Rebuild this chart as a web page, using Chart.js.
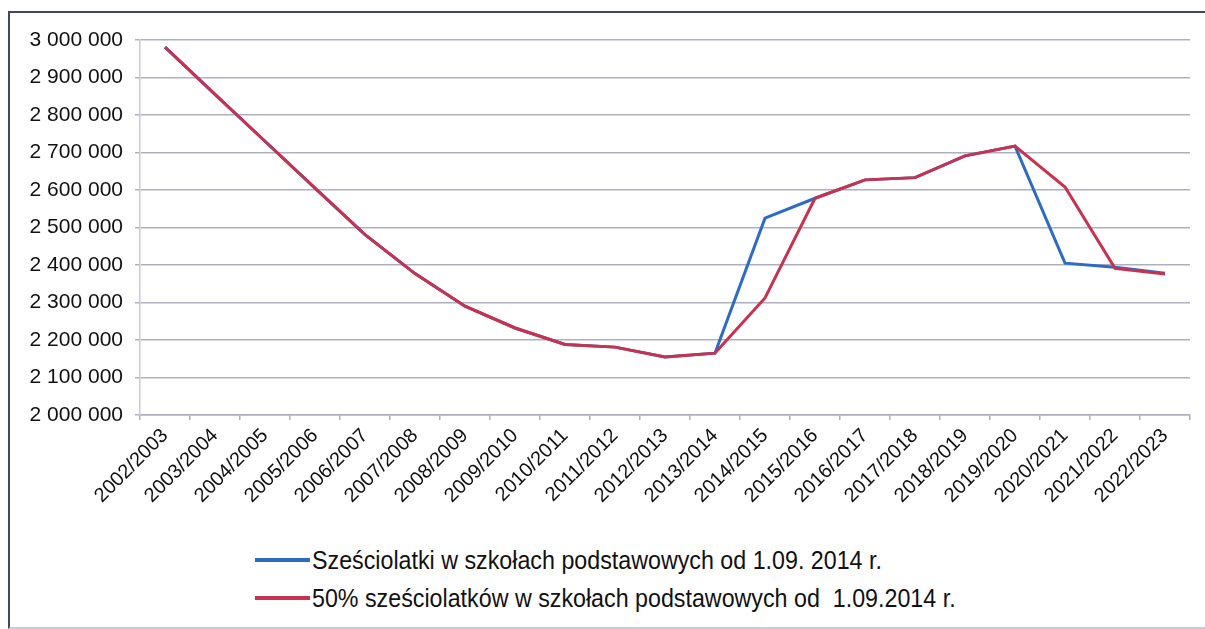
<!DOCTYPE html>
<html lang="pl">
<head>
<meta charset="utf-8">
<script src="https://cdn.jsdelivr.net/npm/chart.js@4.4.0/dist/chart.umd.min.js"></script>
<style>
  html, body { margin: 0; padding: 0; background: #fff; }
  body { width: 1205px; height: 629px; position: relative; overflow: hidden; }
  #frame {
    position: absolute; left: 8px; top: 11px; width: 1300px; height: 614px;
    border-left: 2px solid #434858; border-top: 2px solid #434858;
    border-bottom: 2px solid #c9cad2;
  }
  #wrap { position: absolute; left: 0; top: 0; width: 1205px; height: 515px; }
  #legend {
    position: absolute; left: 255px; top: 541px;
    font-family: 'Liberation Sans Narrow', 'Arial Narrow', 'Liberation Sans', sans-serif;
    font-size: 25px; color: #111;
  }
  .item { height: 38px; display: flex; align-items: center; }
  .swatch { width: 55px; height: 4px; margin-right: 2px; flex: none; }
  .text { display: inline-block; white-space: pre; transform: scaleX(0.93); transform-origin: left center; }
</style>
</head>
<body>
<div id="frame"></div>
<div id="wrap"><canvas id="chart" width="1205" height="515"></canvas></div>
<div id="legend"></div>
<script>
// --- dane ---
const years = ['2002/2003', '2003/2004', '2004/2005', '2005/2006', '2006/2007', '2007/2008',
  '2008/2009', '2009/2010', '2010/2011', '2011/2012', '2012/2013', '2013/2014', '2014/2015',
  '2015/2016', '2016/2017', '2017/2018', '2018/2019', '2019/2020', '2020/2021', '2021/2022',
  '2022/2023'];

const allSixYearOlds = [2981000, 2855000, 2730000, 2605000, 2481000, 2377000, 2290000, 2232000,
  2188000, 2181000, 2155000, 2165000, 2525000, 2578000, 2627000, 2633000, 2691000, 2717000,
  2405000, 2394000, 2378000];

const halfSixYearOlds = [2981000, 2855000, 2730000, 2605000, 2481000, 2377000, 2290000, 2232000,
  2188000, 2181000, 2155000, 2165000, 2312000, 2578000, 2627000, 2633000, 2691000, 2717000,
  2608000, 2391000, 2376000];

const seriesNames = [
  'Sześciolatki w szkołach podstawowych od 1.09. 2014 r.',
  '50% sześciolatków w szkołach podstawowych od  1.09.2014 r.'
];

const yMin = 2000000;
const yMax = 3000000;
const yStep = 100000;

const gridColor = '#aeb0c0';
const tickFont = { family: "'Liberation Sans', Arial, sans-serif", size: 21 };

function formatNumber(v) {
  return String(v).replace(/\B(?=(\d{3})+(?!\d))/g, ' ');
}

const chart = new Chart(document.getElementById('chart'), {
  type: 'line',
  data: {
    labels: years,
    datasets: [
      {
        label: seriesNames[0],
        data: allSixYearOlds,
        borderColor: '#2d6bc6',
        borderWidth: 3,
        pointRadius: 0,
        tension: 0,
        order: 1
      },
      {
        label: seriesNames[1],
        data: halfSixYearOlds,
        borderColor: '#c8324e',
        borderWidth: 3,
        pointRadius: 0,
        tension: 0,
        order: 0
      }
    ]
  },
  options: {
    responsive: false,
    animation: false,
    layout: { padding: { top: 40, right: 15, left: 0, bottom: 0 } },
    plugins: {
      legend: { display: false },
      tooltip: { enabled: false }
    },
    scales: {
      x: {
        offset: true,
        grid: { drawOnChartArea: false, offset: true, tickLength: 5, color: gridColor, lineWidth: 1.5 },
        border: { color: gridColor, width: 1.5 },
        ticks: {
          minRotation: 45, maxRotation: 45, autoSkip: false, padding: 4,
          color: '#111', font: { family: tickFont.family, size: 20 }
        },
        afterFit: (scale) => { scale.height = 100; }
      },
      y: {
        min: yMin,
        max: yMax,
        grid: { color: gridColor, lineWidth: 1.5, tickLength: 5 },
        border: { color: '#c8c9d3', width: 1.5 },
        ticks: {
          stepSize: yStep, padding: 12, color: '#111', font: tickFont,
          callback: (v) => formatNumber(v)
        },
        afterFit: (scale) => { scale.width = 140; }
      }
    }
  }
});

// --- legenda HTML w dwóch wierszach ---
const legendEl = document.getElementById('legend');
chart.data.datasets.forEach((ds) => {
  const row = document.createElement('div');
  row.className = 'item';
  const sw = document.createElement('span');
  sw.className = 'swatch';
  sw.style.background = ds.borderColor;
  const txt = document.createElement('span');
  txt.className = 'text';
  txt.textContent = ds.label;
  row.appendChild(sw);
  row.appendChild(txt);
  legendEl.appendChild(row);
});
</script>
</body>
</html>
